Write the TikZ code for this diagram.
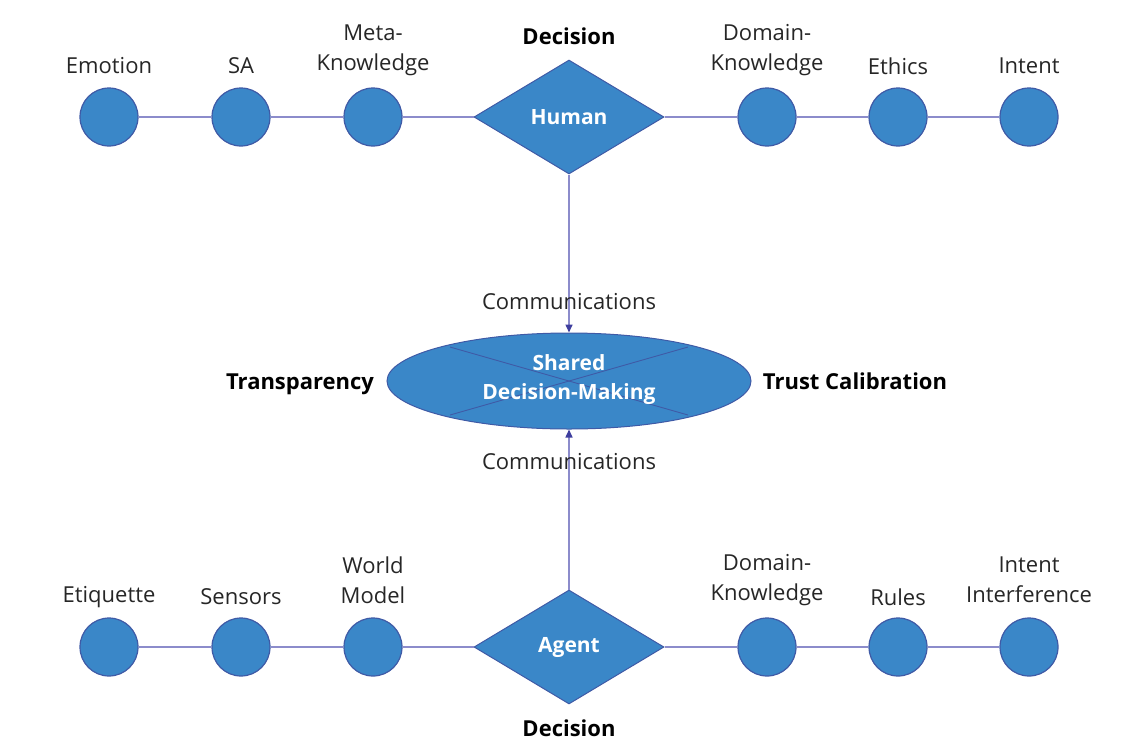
\documentclass[tikz,border=0pt]{standalone}
\usepackage{fontspec}
\setmainfont{Open Sans}
\usetikzlibrary{shapes.geometric,arrows.meta}
\definecolor{nodefill}{HTML}{3A87C8}
\definecolor{nodeedge}{HTML}{3F5AA6}
\definecolor{linkcol}{HTML}{8C8CCB}
\definecolor{arrowcol}{HTML}{3E3E9E}
\tikzset{
  dot/.style={circle,fill=nodefill,draw=nodeedge,line width=1.2pt,minimum size=58pt,inner sep=0pt},
  dia/.style={diamond,fill=nodefill,draw=nodeedge,line width=1pt,minimum width=190pt,minimum height=114pt,inner sep=0pt,aspect=1.67,text=white,font=\fontsize{21}{24}\selectfont\bfseries},
  lbl/.style={font=\fontsize{22}{30}\selectfont,align=center,text=black!85,inner sep=0pt},
  blbl/.style={font=\fontsize{22}{25}\selectfont\bfseries,text=black,inner sep=0pt,text height=16pt,text depth=5pt},
  link/.style={draw=linkcol,line width=1.5pt},
  comm/.style={draw=linkcol,line width=1.5pt,-{Triangle[length=8pt,width=7pt,color=arrowcol]}}
}
\begin{document}
\begin{tikzpicture}[x=1pt,y=-1pt]
\useasboundingbox (0,0) rectangle (1139,755);
% top row
\node[dia] (human) at (569,117) {Human};
\node[dot] (t1) at (109,117) {};
\node[dot] (t2) at (241,117) {};
\node[dot] (t3) at (373,117) {};
\node[dot] (t4) at (767,117) {};
\node[dot] (t5) at (898,117) {};
\node[dot] (t6) at (1029,117) {};
\draw[link] (t1) -- (t2);
\draw[link] (t2) -- (t3);
\draw[link] (t3) -- (human.west);
\draw[link] (human.east) -- (t4);
\draw[link] (t4) -- (t5);
\draw[link] (t5) -- (t6);
\node[lbl] (l1) at (109,66) {Emotion};
\node[lbl] (l2) at (241,66) {SA};
\node[lbl] (l3) at (373,50) {Meta-\\Knowledge};
\node[blbl] (l4) at (569,39) {Decision};
\node[lbl] (l5) at (767,50) {Domain-\\Knowledge};
\node[lbl] (l6) at (898,66) {Ethics};
\node[lbl] (l7) at (1029,66) {Intent};
% ellipse
\node[ellipse,fill=nodefill,draw=nodeedge,line width=1pt,minimum width=364pt,minimum height=96pt,inner sep=0pt] (sdm) at (569,381) {};
\draw[nodeedge,line width=0.9pt] (450,347) -- (688,415);
\draw[nodeedge,line width=0.9pt] (688,347) -- (450,415);
\node[font=\fontsize{21}{29}\selectfont\bfseries,text=white,align=center] (sdmt) at (569,380) {Shared\\Decision-Making};
\node[blbl] (tr) at (300,384) {Transparency};
\node[blbl] (tc) at (855,384) {Trust Calibration};
% bottom row
\node[dia] (agent) at (569,647) {Agent};
\node[dot] (b1) at (109,647) {};
\node[dot] (b2) at (241,647) {};
\node[dot] (b3) at (373,647) {};
\node[dot] (b4) at (767,647) {};
\node[dot] (b5) at (898,647) {};
\node[dot] (b6) at (1029,647) {};
\draw[link] (b1) -- (b2);
\draw[link] (b2) -- (b3);
\draw[link] (b3) -- (agent.west);
\draw[link] (agent.east) -- (b4);
\draw[link] (b4) -- (b5);
\draw[link] (b5) -- (b6);
\node[lbl] (m1) at (109,597) {Etiquette};
\node[lbl] (m2) at (241,597) {Sensors};
\node[lbl] (m3) at (373,580) {World\\Model};
\node[blbl] (m4) at (569,731) {Decision};
\node[lbl] (m5) at (767,580) {Domain-\\Knowledge};
\node[lbl] (m6) at (898,597) {Rules};
\node[lbl] (m7) at (1029,580) {Intent\\Interference};
% communications
\draw[comm] (human.south) -- (sdm.north);
\draw[comm] (agent.north) -- (sdm.south);
\node[lbl] (c1) at (569,302) {Communications};
\node[lbl] (c2) at (569,462) {Communications};
\end{tikzpicture}
\end{document}
